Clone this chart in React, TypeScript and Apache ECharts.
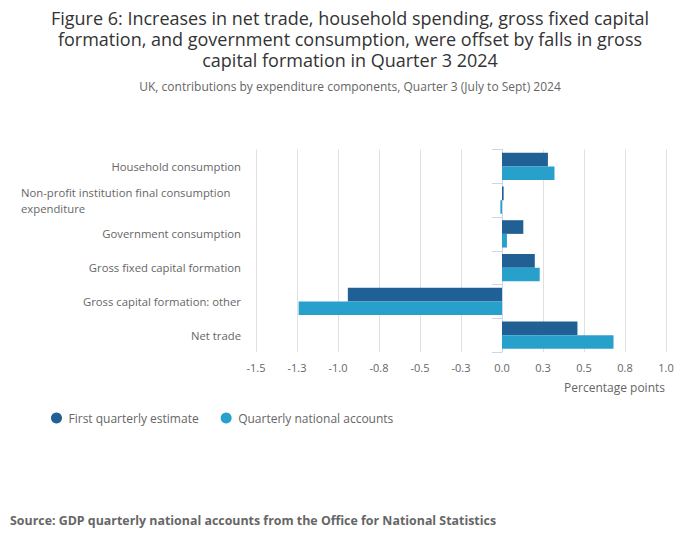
import React, { useEffect, useRef } from "react";
import * as echarts from "echarts";

const categories = [
  "Household consumption",
  "Non-profit institution final consumption expenditure",
  "Government consumption",
  "Gross fixed capital formation",
  "Gross capital formation: other",
  "Net trade",
];
const firstEstimate = [0.28, 0.01, 0.13, 0.2, -0.94, 0.46];
const quarterlyAccounts = [0.32, -0.01, 0.03, 0.23, -1.24, 0.68];
const seriesNames = ["First quarterly estimate", "Quarterly national accounts"];
const xMin = -1.5;
const xMax = 1.0;
const xStep = 0.25;

const titleLines = [
  "Figure 6: Increases in net trade, household spending, gross fixed capital",
  "formation, and government consumption, were offset by falls in gross",
  "capital formation in Quarter 3 2024",
];
const subtitleText = "UK, contributions by expenditure components, Quarter 3 (July to Sept) 2024";
const axisTitle = "Percentage points";
const sourceText = "Source: GDP quarterly national accounts from the Office for National Statistics";

const FONT = "'Open Sans', 'Noto Sans', sans-serif";

function wrapLabel(v: string): string {
  if (v.length <= 40) return v;
  const words = v.split(" ");
  const lines: string[] = [];
  let cur = "";
  for (const w of words) {
    const next = cur ? cur + " " + w : w;
    if (next.length > 40 && cur) {
      lines.push(cur);
      cur = w;
    } else cur = next;
  }
  if (cur) lines.push(cur);
  return lines.map((l) => `{w|${l}}`).join("\n");
}

export default function App() {
  const ref = useRef<HTMLDivElement>(null);
  useEffect(() => {
    if (!ref.current) return;
    const chart = echarts.init(ref.current, undefined, { renderer: "svg" });
    chart.setOption({
      animation: false,
      backgroundColor: "#ffffff",
      textStyle: { fontFamily: FONT },
      title: [
        ...titleLines.map((t, i) => ({
          text: t,
          left: "center",
          top: 7 + i * 21,
          padding: 0,
          textStyle: { fontFamily: FONT, fontSize: 18, fontWeight: "normal", color: "#333333", lineHeight: 21 },
        })),
        {
          text: subtitleText,
          left: "center",
          top: 78,
          padding: 0,
          textStyle: { fontFamily: FONT, fontSize: 12, fontWeight: "normal", color: "#666666", lineHeight: 16 },
        },
      ],
      legend: {
        left: 46,
        top: 407,
        icon: "circle",
        itemWidth: 14,
        itemHeight: 11,
        itemGap: 22,
        textStyle: { fontFamily: FONT, fontSize: 12, color: "#666666" },
        data: seriesNames,
      },
      grid: { left: 256, right: 34, top: 149.5, bottom: 197, containLabel: false },
      xAxis: {
        type: "value",
        min: xMin,
        max: xMax,
        interval: xStep,
        axisLine: { show: false },
        axisTick: { show: false },
        splitLine: { show: true, lineStyle: { color: "#e0e0e0", width: 1 } },
        axisLabel: {
          fontFamily: FONT,
          fontSize: 11,
          color: "#666666",
          margin: 10,
          formatter: (v: number) => v.toFixed(1),
        },
      },
      yAxis: {
        type: "category",
        inverse: true,
        data: categories,
        axisLine: { show: true, lineStyle: { color: "#ccd6eb", width: 1 } },
        axisTick: { show: true, length: 10, lineStyle: { color: "#ccd6eb" } },
        splitLine: { show: false },
        axisLabel: {
          fontFamily: FONT,
          fontSize: 11.3,
          color: "#666666",
          margin: 15,
          formatter: wrapLabel,
          rich: {
            w: { width: 220, align: "left", fontFamily: FONT, fontSize: 11.3, color: "#666666", lineHeight: 16 },
          },
        },
      },
      series: [
        {
          name: seriesNames[0],
          type: "bar",
          data: firstEstimate,
          itemStyle: { color: "#206095" },
          barGap: "0%",
          barCategoryGap: "19%",
        },
        {
          name: seriesNames[1],
          type: "bar",
          data: quarterlyAccounts,
          itemStyle: { color: "#27a0cc" },
          barGap: "0%",
          barCategoryGap: "19%",
        },
      ],
      graphic: [
        {
          type: "text",
          right: 35,
          top: 381,
          style: { text: axisTitle, fontFamily: FONT, fontSize: 12, fill: "#666666" },
        },
        {
          type: "text",
          left: 10,
          top: 514,
          style: { text: sourceText, fontFamily: FONT, fontSize: 12.4, fontWeight: "bold", fill: "#666666" },
        },
      ],
    });
    return () => chart.dispose();
  }, []);
  return (
    <div
      ref={ref}
      style={{ position: "fixed", left: 0, top: 0, width: 700, height: 549, background: "#fff" }}
    />
  );
}
